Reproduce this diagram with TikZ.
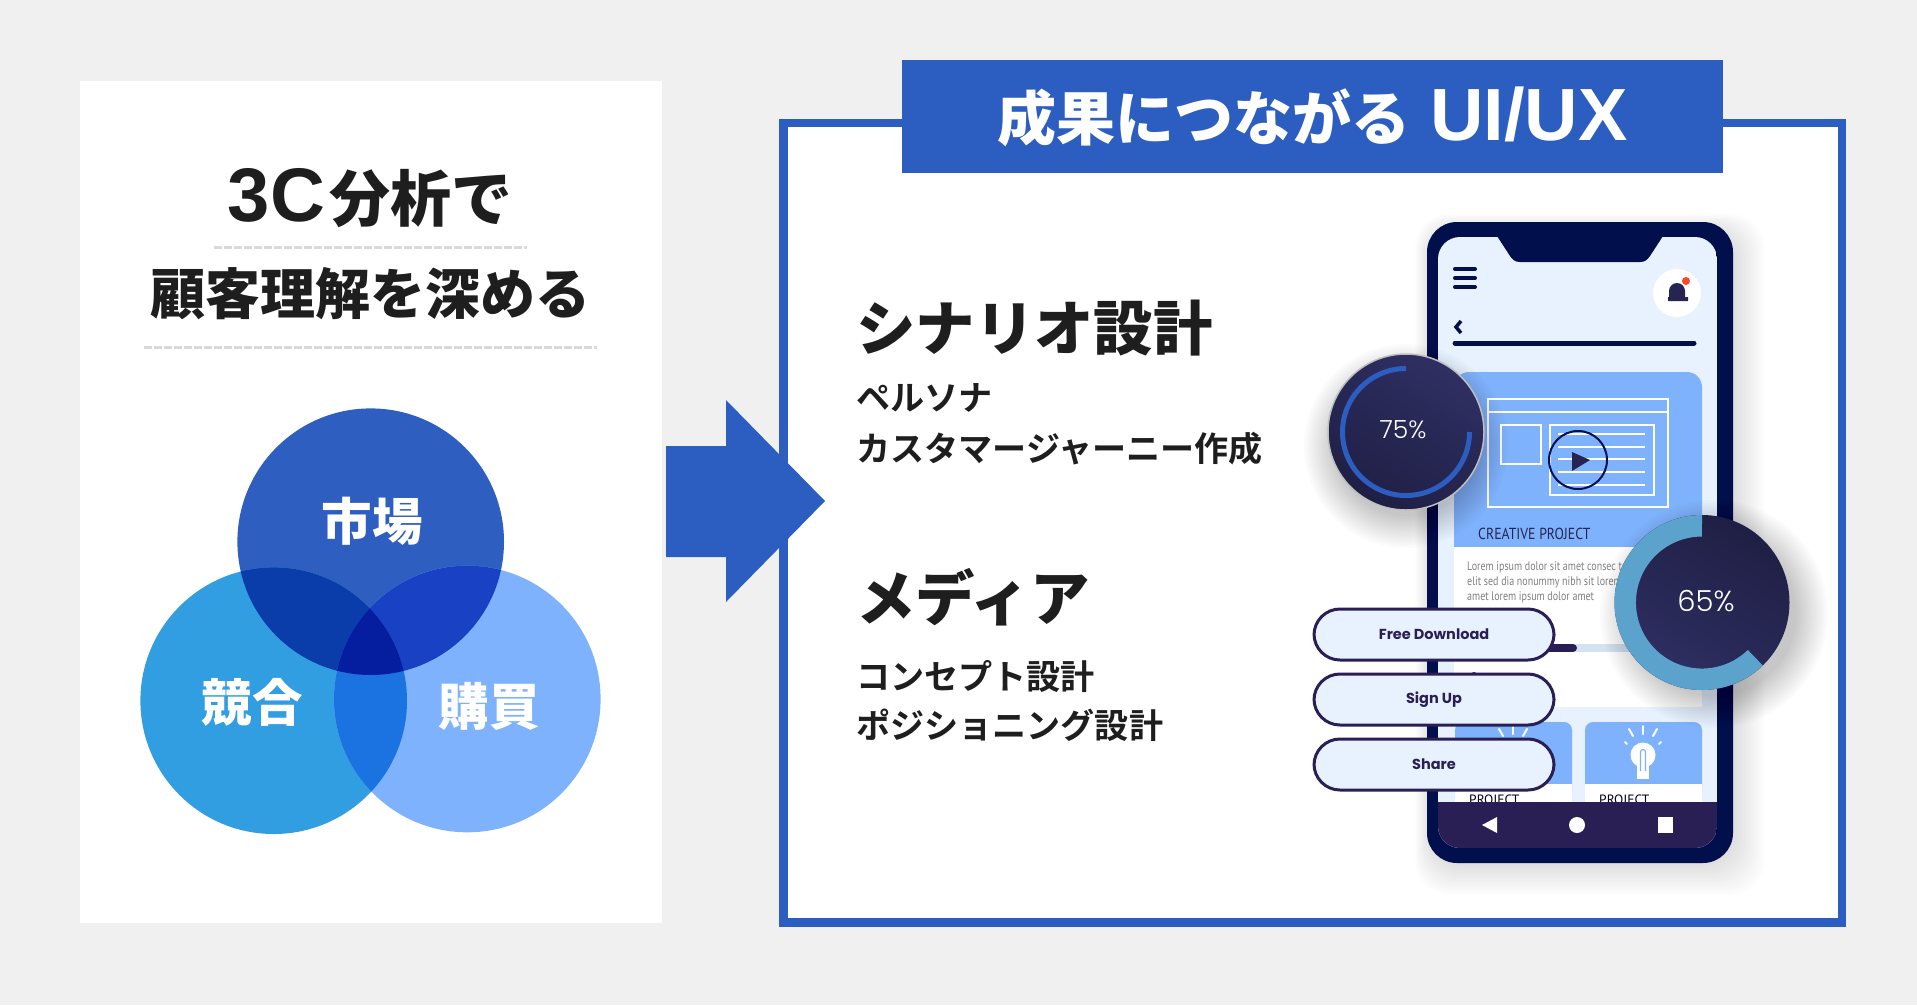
\documentclass[tikz,border=0pt]{standalone}
\usepackage{graphicx}
\usepackage{fontspec}
\usetikzlibrary{positioning}
\setmainfont{Noto Sans CJK JP}
\newfontfamily\jpbold{Noto Sans CJK JP Bold}
\newfontfamily\jpblack{Noto Sans CJK JP Black}
\newfontfamily\latinbold{Liberation Sans Bold}
\newfontfamily\uifont{Poppins}
\newfontfamily\uilight{Poppins Light}
\newfontfamily\phonefont{PT Sans}
\newcommand{\fs}[1]{\fontsize{#1}{#1}\selectfont}
\definecolor{pagegray}{RGB}{240,240,240}
\definecolor{brandblue}{RGB}{44,94,194}
\definecolor{darkink}{RGB}{30,30,30}
\definecolor{venntop}{RGB}{45,94,192}
\definecolor{vennleft}{RGB}{48,158,224}
\definecolor{vennright}{RGB}{127,178,253}
\definecolor{venntl}{RGB}{10,60,170}
\definecolor{venntr}{RGB}{24,66,195}
\definecolor{vennlr}{RGB}{26,115,225}
\definecolor{venncore}{RGB}{5,30,160}
\definecolor{phoneframe}{RGB}{2,15,77}
\definecolor{phonescreen}{RGB}{232,242,255}
\definecolor{phoneblue}{RGB}{127,178,252}
\definecolor{navbar}{RGB}{42,31,84}
\definecolor{dialdark}{RGB}{38,36,82}
\definecolor{dialup}{RGB}{47,47,99}
\definecolor{diallow}{RGB}{31,31,69}
\definecolor{dialring}{RGB}{91,163,204}
\definecolor{barlight}{RGB}{213,227,240}
\tikzset{
  titletext/.style={text=darkink, inner sep=0pt},
  subtext/.style={text=darkink, inner sep=0pt, anchor=west, font=\jpbold\fs{34.1}},
  headtext/.style={text=darkink, inner sep=0pt, anchor=west, font=\jpblack\fs{59.4}},
  venntext/.style={text=white, inner sep=0pt, font=\jpblack\fs{50.5}},
  rulegray/.style={draw=black!15, line width=3pt, dash pattern=on 8pt off 2pt},
  pillbutton/.style={draw=navbar, line width=3pt, fill=phonescreen, rounded corners=26pt,
    minimum width=240pt, minimum height=51pt, inner sep=0pt, text=navbar,
    font=\uifont\bfseries\fs{14.5}},
  winline/.style={draw=white, line width=2pt},
  phonelabel/.style={inner sep=0pt, anchor=west, font=\phonefont},
  bulbpart/.style={fill=white, draw=none},
  bulbray/.style={draw=white, line width=2pt, line cap=round}
}
\newcommand{\softshadow}[4]{% x, y, radius, spread
  \foreach \k in {1,...,14}
    \fill[black, opacity=0.016] (#1,#2) circle ({#3+#4*\k/14});
}
\newcommand{\lightbulb}[2]{% cx, cy
  \fill[bulbpart] (#1,#2) circle (12.5);
  \fill[bulbpart] (#1-6,#2+6) rectangle (#1+6,#2+24);
  \draw[phoneblue, line width=1.2pt] (#1-2.5,#2+16) -- (#1-2.5,#2-3) arc (180:360:2.5) -- (#1+2.5,#2+16);
  \draw[bulbray] (#1,#2-21) -- (#1,#2-29);
  \draw[bulbray] (#1-10,#2-19) -- (#1-14,#2-26);
  \draw[bulbray] (#1+10,#2-19) -- (#1+14,#2-26);
  \draw[bulbray] (#1-16,#2-11) -- (#1-18,#2-13);
  \draw[bulbray] (#1+16,#2-11) -- (#1+18,#2-13);
}
\begin{document}
\begin{tikzpicture}[x=1pt, y=-1pt]
\useasboundingbox (0,0) rectangle (1917,1005);
\fill[pagegray] (0,0) rectangle (1917,1005);

% left sheet
\fill[white] (80,81) rectangle (662,923);
\node[titletext] (title1) at (370,198) {{\latinbold\fs{76}3C}\hspace{4pt}{\jpblack\fs{61}分析で}};
\node[titletext, font=\jpblack\fs{55}] (title2) at (370,294) {顧客理解を深める};
\draw[rulegray] (214,247) -- (527,247);
\draw[rulegray] (144,347) -- (597,347);

% venn
\fill[venntop] (370.7,541.7) circle (133.3);
\fill[vennleft] (273.7,700.7) circle (133.3);
\fill[vennright] (467.3,699) circle (133.3);
\begin{scope}
  \clip (370.7,541.7) circle (133.3);
  \fill[venntl] (273.7,700.7) circle (133.3);
  \fill[venntr] (467.3,699) circle (133.3);
\end{scope}
\begin{scope}
  \clip (273.7,700.7) circle (133.3);
  \fill[vennlr] (467.3,699) circle (133.3);
  \clip (467.3,699) circle (133.3);
  \fill[venncore] (370.7,541.7) circle (133.3);
\end{scope}
\node[venntext] (market) at (372,521) {市場};
\node[venntext] (rival) at (252,702) {競合};
\node[venntext] (buyer) at (489,706) {購買};

% right frame
\draw[brandblue, line width=8.5pt, fill=white] (783.3,122.8) rectangle (1842,922.5);
\node[fill=brandblue, minimum width=821pt, minimum height=113pt, inner sep=0pt] (banner) at (1312.5,116.5) {};
\node[text=white, inner sep=0pt] (bannertext) at (1312.5,116.5) {{\jpblack\fs{59}成果につながる}\hspace{20pt}{\latinbold\fs{74}UI/UX}};

% arrow
\fill[brandblue] (666,446) -- (726,446) -- (726,400) -- (825,501) -- (726,602) -- (726,557) -- (666,557) -- cycle;

\node[headtext] (scenario) at (856,328) {シナリオ設計};
\node[subtext] (persona) at (856,398) {ペルソナ};
\node[subtext] (journey) at (856,449) {カスタマージャーニー作成};
\node[headtext] (media) at (856,597) {メディア};
\node[subtext] (concept) at (856,676) {コンセプト設計};
\node[subtext] (position) at (856,725) {ポジショニング設計};

% phone
\foreach \k in {1,...,16}
  \fill[black, opacity=0.008, rounded corners=34pt] (1427+4-\k,222+8-\k) rectangle (1733+2*\k,863+2*\k);
\fill[phoneframe, rounded corners=30pt] (1427,222) rectangle (1733,863);
\begin{scope}
  \clip[rounded corners=22pt] (1438,237) rectangle (1717,848);
  \fill[phonescreen] (1438,237) rectangle (1717,848);
  \fill[phoneblue, rounded corners=15pt] (1454,372) rectangle (1702,570);
  \fill[white] (1454,547) rectangle (1702,707);
  \fill[phoneblue, rounded corners=8pt] (1455,722) rectangle (1572,800);
  \fill[phoneblue, rounded corners=8pt] (1585,722) rectangle (1702,800);
  \fill[white] (1455,784) rectangle (1572,802);
  \fill[white] (1585,784) rectangle (1702,802);
  \node[phonelabel, text=black!85!blue, font=\phonefont\fs{13.5}] (proj1) at (1469,800) {PROJECT};
  \node[phonelabel, text=black!85!blue, font=\phonefont\fs{13.5}] (proj2) at (1599,800) {PROJECT};
  \fill[navbar] (1438,802) rectangle (1717,848);
\end{scope}
\fill[phoneframe] (1497,236) -- (1663,236) -- (1650,256) .. controls (1647,260) and (1645,262) .. (1640,262)
  -- (1520,262) .. controls (1515,262) and (1513,260) .. (1510,256) -- cycle;

% top bar
\foreach \y in {269,278,287}
  \draw[phoneframe, line width=4pt, line cap=round] (1455,\y) -- (1475,\y);
\fill[white] (1677,293) circle (24);
\fill[dialdark] (1669,297) -- (1669,291) arc (180:360:8) -- (1685,297) -- (1688,297) -- (1688,301) -- (1668,301) -- (1668,297) -- cycle;
\fill[red!70!orange!85!white] (1686,281) circle (4);
\draw[phoneframe, line width=3.5pt] (1461,321) -- (1456,327) -- (1461,333);
\draw[phoneframe, line width=5pt, line cap=round] (1455,343) -- (1694,343);

% window icon
\draw[winline] (1488,399) rectangle (1668,507);
\draw[winline] (1488,412) -- (1668,412);
\draw[winline] (1501,425) rectangle (1541,464);
\draw[winline] (1550,425) rectangle (1654,495);
\foreach \y in {434,447,459,472,485}
  \draw[winline] (1558,\y) -- (1645,\y);
\draw[phoneframe, line width=2pt] (1578,460) circle (29);
\fill[dialdark] (1572,452) -- (1590,460) -- (1572,471) -- cycle;
\node[phonelabel, text=dialdark, font=\phonefont\fs{16}] (creative) at (1478,534) {\scalebox{0.86}[1]{CREATIVE PROJECT}};

% lorem
\node[phonelabel, text=black!50, font=\phonefont\fs{12.5}] (lorem1) at (1467,567) {\scalebox{0.8}[1]{Lorem ipsum dolor sit amet consec te}};
\node[phonelabel, text=black!50, font=\phonefont\fs{12.5}] (lorem2) at (1467,582) {\scalebox{0.8}[1]{elit sed dia nonummy nibh  sit lorem}};
\node[phonelabel, text=black!50, font=\phonefont\fs{12.5}] (lorem3) at (1467,597) {\scalebox{0.8}[1]{amet lorem ipsum dolor amet}};
\draw[barlight, line width=8pt] (1570,648) -- (1650,648);
\draw[navbar, line width=8pt, line cap=round] (1530,648) -- (1573,648);
\fill[navbar] (1474,677) circle (5);

% bulbs
\lightbulb{1513}{755}
\lightbulb{1643}{755}

% nav icons
\fill[white] (1482,825) -- (1497,817) -- (1497,833) -- cycle;
\fill[white] (1577,825) circle (8);
\fill[white] (1658,817) rectangle (1673,833);

% buttons
\node[pillbutton] (download) at (1434,634.5) {Free Download};
\node[pillbutton, below=11pt of download] (signup) {Sign Up};
\node[pillbutton, below=11pt of signup] (share) {Share};

% dial 75
\softshadow{1406}{446}{68}{34}
\shade[top color=dialup, bottom color=diallow, shading angle=-30] (1406,432) circle (78);
\draw[black!25, line width=1.5pt] (1406,432) circle (78);
\draw[brandblue, line width=5pt] (1406,368.5) arc (-90:-360:63.5);
\node[inner sep=0pt, text=white, font=\uilight\fs{25}] (pct75) at (1403,430) {75\%};

% dial 65
\softshadow{1714}{614}{80}{34}
\shade[top color=diallow, bottom color=dialup, shading angle=-30] (1702,602.5) circle (87.5);
\fill[dialring] (1702,515) arc (-90:-314:87.5) -- (1747.8,650) arc (-314:-90:66) -- cycle;
\node[inner sep=0pt, text=white, font=\uilight\fs{29}] (pct65) at (1706,601) {65\%};
\end{tikzpicture}
\end{document}
